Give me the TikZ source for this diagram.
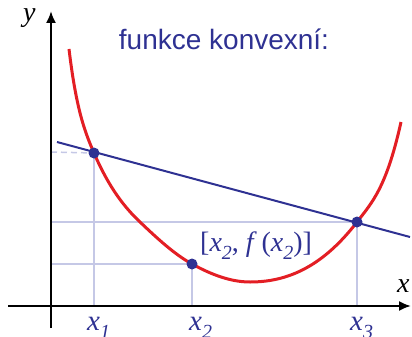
\documentclass[tikz,border=0pt]{standalone}
\usepackage{fontspec}
\setmainfont{Liberation Serif}
\newfontfamily\titlefont{Liberation Sans}
\usetikzlibrary{arrows.meta}
\definecolor{fblue}{HTML}{2E3192}
\definecolor{fred}{HTML}{E31E24}
\definecolor{gridc}{HTML}{C5C8E6}
\newcommand{\lsub}[1]{\raisebox{-0.3em}{\fontsize{20}{20}\selectfont\itshape #1}}
\tikzset{
  axisline/.style={line width=2pt, -{Latex[length=12pt,width=10pt]}},
  guide/.style={draw=gridc, line width=1.5pt},
  dot/.style={circle, fill=fblue, inner sep=0pt, minimum size=11pt},
  lbl/.style={text=fblue, font=\fontsize{29}{29}\selectfont\itshape, inner sep=0pt, anchor=base west},
  curve/.style={draw=fred, line width=3pt},
  chord/.style={draw=fblue, line width=2pt},
}
\begin{document}
\begin{tikzpicture}[x=1pt,y=-1pt]
\useasboundingbox (0,0) rectangle (412,337);
% coordinates
\coordinate (xs) at (8,306);
\coordinate (xe) at (411,306);
\coordinate (ys) at (51,328);
\coordinate (ye) at (51,11);
\coordinate (h1) at (51,152);
\coordinate (h3) at (51,222);
\coordinate (h2) at (51,264);
\coordinate (b1) at (94,306);
\coordinate (b2) at (192,306);
\coordinate (b3) at (357,306);
\coordinate (ls) at (57,142);
\coordinate (le) at (410,237);
% points
\coordinate (p1) at (94,153);
\coordinate (p2) at (192,264);
\coordinate (p3) at (357,222);
\coordinate (cs) at (69,49);
\coordinate (cq) at (140,222);
\coordinate (cm) at (250,282);
\coordinate (ce) at (401,122);
% guides
\draw[guide, dash pattern=on 6pt off 4pt] (h1) -- (p1);
\draw[guide] (h3) -- (p3);
\draw[guide] (h2) -- (p2);
\draw[guide] (p1) -- (b1);
\draw[guide] (p2) -- (b2);
\draw[guide] (p3) -- (b3);
% axes
\draw[axisline] (xs) -- (xe);
\draw[axisline] (ys) -- (ye);
% curve
\draw[curve] (cs) .. controls (76.5,112) and (85.7,133.8) .. (p1)
  .. controls (109.3,188.3) and (124.7,207.5) .. (cq)
  .. controls (157.3,238.5) and (174.7,254.5) .. (p2)
  .. controls (211.3,274.6) and (230.7,282) .. (cm)
  .. controls (285.7,282) and (321.3,268.4) .. (p3)
  .. controls (371.7,202.9) and (386.3,188.2) .. (ce);
% chord
\draw[chord] (ls) -- (le);
% dots on top
\node[dot] (d1) at (p1) {};
\node[dot] (d2) at (p2) {};
\node[dot] (d3) at (p3) {};
% labels
\node[lbl, text=black, font=\fontsize{28}{28}\selectfont\itshape] (ylab) at (23,22) {y};
\node[lbl, text=black, font=\fontsize{28}{28}\selectfont\itshape] (xlab) at (397,292) {x};
\node[lbl] (x1) at (87,330) {x\lsub{1}};
\node[lbl] (x2) at (189,330) {x\lsub{2}};
\node[lbl] (x3) at (350,330) {x\lsub{3}};
\node[lbl, font=\fontsize{28}{28}\selectfont\itshape] (pt) at (200,251) {\upshape[\textit{x}\lsub{2}, \textit{f}\,(\textit{x}\lsub{2})]};
\node[text=fblue, font=\fontsize{28}{28}\selectfont\titlefont, inner sep=0pt, anchor=base] (title) at (224,49) {funkce konvexní:};
\end{tikzpicture}
\end{document}
